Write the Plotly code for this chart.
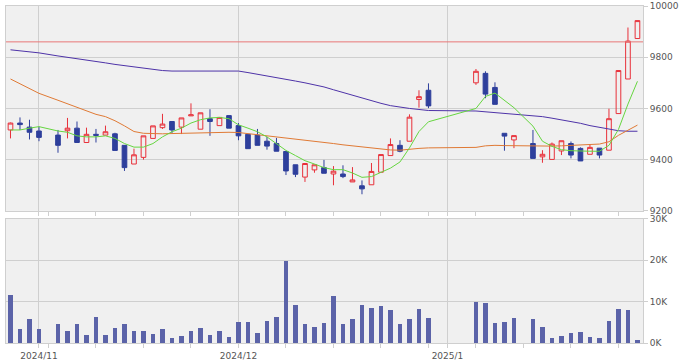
import plotly.graph_objects as go

dates = ["2024-10-29","2024-10-30","2024-10-31","2024-11-01",
         "2024-11-05","2024-11-06","2024-11-07","2024-11-08",
         "2024-11-11","2024-11-12","2024-11-13","2024-11-14","2024-11-15",
         "2024-11-18","2024-11-19","2024-11-20","2024-11-21","2024-11-22",
         "2024-11-25","2024-11-26","2024-11-27","2024-11-28","2024-11-29",
         "2024-12-02","2024-12-03","2024-12-04","2024-12-05","2024-12-06",
         "2024-12-09","2024-12-10","2024-12-11","2024-12-12","2024-12-13",
         "2024-12-16","2024-12-17","2024-12-18","2024-12-19","2024-12-20",
         "2024-12-23","2024-12-24","2024-12-25","2024-12-26","2024-12-27",
         "2024-12-30",
         "2025-01-06","2025-01-07","2025-01-08","2025-01-09","2025-01-10",
         "2025-01-14","2025-01-15","2025-01-16","2025-01-17",
         "2025-01-20","2025-01-21","2025-01-22","2025-01-23","2025-01-24",
         "2025-01-27","2025-01-28","2025-01-29"]

open_ = [9516, 9543, 9527, 9512,
         9496, 9513, 9523, 9467,
         9499, 9496, 9501, 9456, 9383,
         9409, 9483, 9525, 9549, 9527,
         9571, 9519, 9560, 9533, 9572,
         9533, 9499, 9496, 9472, 9463,
         9432, 9380, 9332, 9360, 9369,
         9344, 9344, 9313, 9298, 9302,
         9351, 9416, 9456, 9472, 9635,
         9671,
         9700, 9737, 9682, 9503, 9477,
         9463, 9411, 9401, 9434,
         9463, 9444, 9421, 9445, 9437,
         9580, 9715, 9873]
high = [9545, 9565, 9556, 9529,
        9516, 9563, 9549, 9525,
        9520, 9533, 9505, 9456, 9443,
        9493, 9532, 9579, 9549, 9563,
        9620, 9583, 9597, 9565, 9572,
        9543, 9499, 9520, 9489, 9485,
        9432, 9380, 9385, 9380, 9399,
        9375, 9378, 9371, 9319, 9387,
        9420, 9483, 9476, 9577, 9671,
        9698,
        9754, 9745, 9702, 9503, 9494,
        9516, 9437, 9467, 9474,
        9471, 9448, 9458, 9445, 9599,
        9748, 9916, 9943]
low = [9483, 9516, 9479, 9472,
       9427, 9483, 9467, 9467,
       9467, 9496, 9436, 9356, 9383,
       9400, 9483, 9520, 9503, 9500,
       9571, 9519, 9493, 9533, 9523,
       9476, 9443, 9456, 9439, 9433,
       9340, 9332, 9313, 9349, 9347,
       9300, 9328, 9313, 9265, 9302,
       9351, 9416, 9429, 9472, 9603,
       9601,
       9692, 9640, 9616, 9435, 9445,
       9405, 9388, 9401, 9418,
       9405, 9395, 9421, 9405, 9437,
       9580, 9715, 9873]
close = [9543, 9537, 9507, 9487,
         9456, 9523, 9467, 9499,
         9495, 9509, 9436, 9369, 9419,
         9493, 9532, 9539, 9516, 9563,
         9575, 9583, 9549, 9565, 9523,
         9493, 9443, 9456, 9453, 9433,
         9356, 9343, 9385, 9380, 9347,
         9355, 9334, 9321, 9286, 9354,
         9420, 9459, 9433, 9566, 9646,
         9610,
         9745, 9656, 9616, 9492, 9494,
         9405, 9421, 9461, 9474,
         9418, 9395, 9448, 9418, 9560,
         9748, 9863, 9943]

ma_short = [9516, 9516, 9523, 9529,
            9512, 9507, 9493, 9489,
            9489, 9493, 9483, 9463, 9449,
            9449, 9463, 9489, 9509, 9523,
            9543, 9556, 9563, 9565, 9560,
            9536, 9523, 9509, 9489, 9463,
            9436, 9416, 9396, 9383, 9369,
            9361, 9361, 9348, 9331, 9334,
            9351, 9367, 9391, 9446, 9510,
            9548,
            9600, 9647, 9660, 9630, 9603,
            9531, 9472, 9452, 9439,
            9435, 9433, 9433, 9433, 9456,
            9518, 9617, 9706]
ma_mid = [9715, 9697, 9680, 9659,
          9632, 9618, 9607, 9592,
          9577, 9568, 9552, 9532, 9510,
          9503, 9501, 9501, 9502, 9503,
          9504, 9504, 9505, 9506, 9507,
          9506, 9502, 9497, 9493, 9489,
          9485, 9480, 9476, 9471, 9467,
          9463, 9458, 9454, 9449, 9446,
          9442, 9438, 9437, 9441, 9444,
          9446,
          9448, 9454, 9456, 9455, 9454,
          9452, 9452, 9453, 9454,
          9456, 9457, 9459, 9461, 9470,
          9495, 9515, 9535]
ma_long = [9829, 9825, 9821, 9817,
           9805, 9800, 9794, 9788,
           9783, 9778, 9772, 9767, 9764,
           9759, 9753, 9748, 9746, 9746,
           9747, 9747, 9747, 9747, 9747,
           9746, 9740, 9734, 9727, 9721,
           9714, 9707, 9700, 9692, 9684,
           9673, 9662, 9651, 9640, 9630,
           9620, 9611, 9605, 9600, 9596,
           9592,
           9590, 9587, 9584, 9582, 9579,
           9572, 9568, 9562, 9556,
           9550, 9542, 9533, 9526, 9519,
           9513, 9511, 9511]

volume = [11600, 3400, 5700, 3400,
          4500, 3000, 4500, 2000,
          6400, 2000, 3600, 4600, 3000,
          2800, 2100, 3400, 1100, 1700,
          2800, 3600, 2000, 3000, 1500,
          5100, 5100, 2400, 5400, 6400,
          19800, 9100, 4500, 3900, 4900,
          11400, 4700, 5700, 9300, 8500,
          8900, 7900, 4500, 5700, 8300,
          6000,
          10000, 9800, 4900, 5100, 6000,
          5700, 3900, 1300, 1700,
          2400, 2600, 1500, 1100, 5400,
          8300, 8100, 700]

ref_price = 9860

month_ticks = ["2024-11-01", "2024-12-02", "2025-01-01"]
month_labels = ["2024/11", "2024/12", "2025/1"]
week_ticks = ["2024-11-04", "2024-11-11", "2024-11-18", "2024-11-25",
              "2024-12-09", "2024-12-16", "2024-12-23", "2024-12-30",
              "2025-01-06", "2025-01-13", "2025-01-20", "2025-01-27"]
price_ticks = [9200, 9400, 9600, 9800, 10000]
price_labels = ["9200", "9400", "9600", "9800", "10000"]
vol_ticks = [0, 10000, 20000, 30000]
vol_labels = ["0K", "10K", "20K", "30K"]

UP = "#e8303a"
DOWN = "#2e3f9c"
GRID = "#cfcfcf"
BG = "#f0f0f0"
FONT = dict(family="DejaVu Sans", size=9, color="#555555")

fig = go.Figure()

fig.add_trace(go.Candlestick(
    x=dates, open=open_, high=high, low=low, close=close,
    increasing=dict(line=dict(color=UP, width=1), fillcolor="rgba(0,0,0,0)"),
    decreasing=dict(line=dict(color=DOWN, width=1), fillcolor=DOWN),
    whiskerwidth=0, xaxis="x", yaxis="y", showlegend=False, hoverinfo="skip"))

fig.add_trace(go.Scatter(x=dates, y=ma_long, mode="lines",
                         line=dict(color="#4e33a8", width=1), xaxis="x", yaxis="y", showlegend=False))
fig.add_trace(go.Scatter(x=dates, y=ma_mid, mode="lines",
                         line=dict(color="#e07a35", width=1), xaxis="x", yaxis="y", showlegend=False))
fig.add_trace(go.Scatter(x=dates, y=ma_short, mode="lines",
                         line=dict(color="#66d640", width=1), xaxis="x", yaxis="y", showlegend=False))

fig.add_trace(go.Bar(x=dates, y=volume, marker=dict(color="#5b63a8", line=dict(width=0)),
                     width=0.48 * 86400000, xaxis="x2", yaxis="y2", showlegend=False))

fig.add_shape(type="line", xref="x domain", yref="y", x0=0, x1=1, y0=ref_price, y1=ref_price,
              line=dict(color="#e87878", width=1))

xrange = ["2024-10-28 12:40", "2025-01-29 14:00"]
common_x = dict(type="date", range=xrange, rangebreaks=[dict(bounds=["sat", "mon"])],
                tickvals=month_ticks, ticktext=month_labels,
                showgrid=True, gridcolor=GRID, gridwidth=1,
                showline=True, linecolor=GRID, mirror=True, zeroline=False,
                ticks="outside", ticklen=4, tickcolor=GRID,
                minor=dict(tickvals=week_ticks, ticks="outside", ticklen=4, tickcolor=GRID, showgrid=False),
                rangeslider=dict(visible=False), tickfont=FONT, fixedrange=True,
                automargin=False)

fig.update_layout(
    width=680, height=361,
    margin=dict(l=6, r=37, t=6, b=18),
    paper_bgcolor="white", plot_bgcolor=BG,
    showlegend=False, bargap=0,
    xaxis=dict(**common_x, domain=[0, 1], anchor="y", showticklabels=False),
    xaxis2=dict(**common_x, domain=[0, 1], anchor="y2", matches="x", showticklabels=True),
    yaxis=dict(domain=[0.392, 1], range=[9200, 10000], side="right", tickvals=price_ticks,
               ticktext=price_labels,
               showgrid=True, gridcolor=GRID, showline=True, linecolor=GRID, mirror=True,
               ticks="outside", ticklen=4, tickcolor=GRID, tickfont=FONT, zeroline=False,
               anchor="x", automargin=False),
    yaxis2=dict(domain=[0, 0.368], range=[0, 30000], side="right", tickvals=vol_ticks,
                ticktext=vol_labels, showgrid=True, gridcolor=GRID, showline=True,
                linecolor=GRID, mirror=True, ticks="outside", ticklen=4, tickcolor=GRID,
                tickfont=FONT, zeroline=False, anchor="x2", automargin=False),
)

fig.write_html("out.html", config={"displayModeBar": False},
               post_script="document.body.style.margin='0px';document.body.style.overflow='hidden';")
